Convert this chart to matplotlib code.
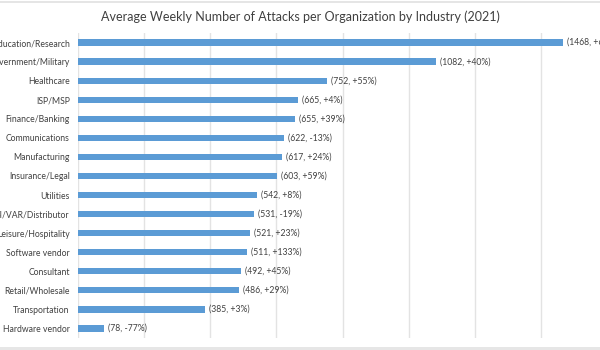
import matplotlib as mpl
mpl.use('Agg')
import matplotlib.pyplot as plt
import matplotlib.ticker as tick

industries = ["Education/Research", "Government/Military", "Healthcare", "ISP/MSP",
              "Finance/Banking", "Communications", "Manufacturing", "Insurance/Legal",
              "Utilities", "SI/VAR/Distributor", "Leisure/Hospitality", "Software vendor",
              "Consultant", "Retail/Wholesale", "Transportation", "Hardware vendor"]
attacks = [1468, 1082, 752, 665, 655, 622, 617, 603, 542, 531, 521, 511, 492, 486, 385, 78]
change = ["+60%", "+40%", "+55%", "+4%", "+39%", "-13%", "+24%", "+59%",
          "+8%", "-19%", "+23%", "+133%", "+45%", "+29%", "+3%", "-77%"]

plt.rcParams['font.family'] = ['Lato', 'DejaVu Sans']

fig = plt.figure(figsize=(6, 3.5), dpi=100)
# axes runs past the right edge: the reference is a crop of a wider chart
ax1 = fig.add_axes([78/600, 12/350, 529/600, 305/350])

ypos = list(range(len(industries)))
ax1.barh(ypos, attacks, height=0.33, color='#5b9bd5', zorder=3)
for y, v, c in zip(ypos, attacks, change):
    ax1.text(v + 12, y, "(%d, %s)" % (v, c), va='center', ha='left',
             fontsize=6.2, color='#404040', zorder=4)

ax1.set_xlim(0, 1600)
ax1.set_ylim(len(industries) - 0.5, -0.5)
ax1.xaxis.set_major_locator(tick.MultipleLocator(200))
ax1.grid(axis='x', color='#e3e3e3', linewidth=1.0, zorder=0)
ax1.set_xticklabels([])
ax1.tick_params(axis='x', length=0)
ax1.tick_params(axis='y', length=0, pad=6, labelsize=6.2, labelcolor='#404040')
ax1.set_yticks(ypos)
ax1.set_yticklabels(industries)
for s in ax1.spines.values():
    s.set_visible(False)

fig.text(0.5, 1 - 17/350, "Average Weekly Number of Attacks per Organization by Industry (2021)",
         ha='center', va='center', fontsize=9, color='#404040')

# thin grey frame of the screenshot
fig.add_artist(plt.Line2D([0, 1], [1 - 1.5/350, 1 - 1.5/350], color='#e0e0e0', linewidth=1.2))
fig.add_artist(plt.Rectangle((0, 0), 1, 3/350, color='#e6e6e6', linewidth=0))

plt.savefig("out.png", dpi=100)
